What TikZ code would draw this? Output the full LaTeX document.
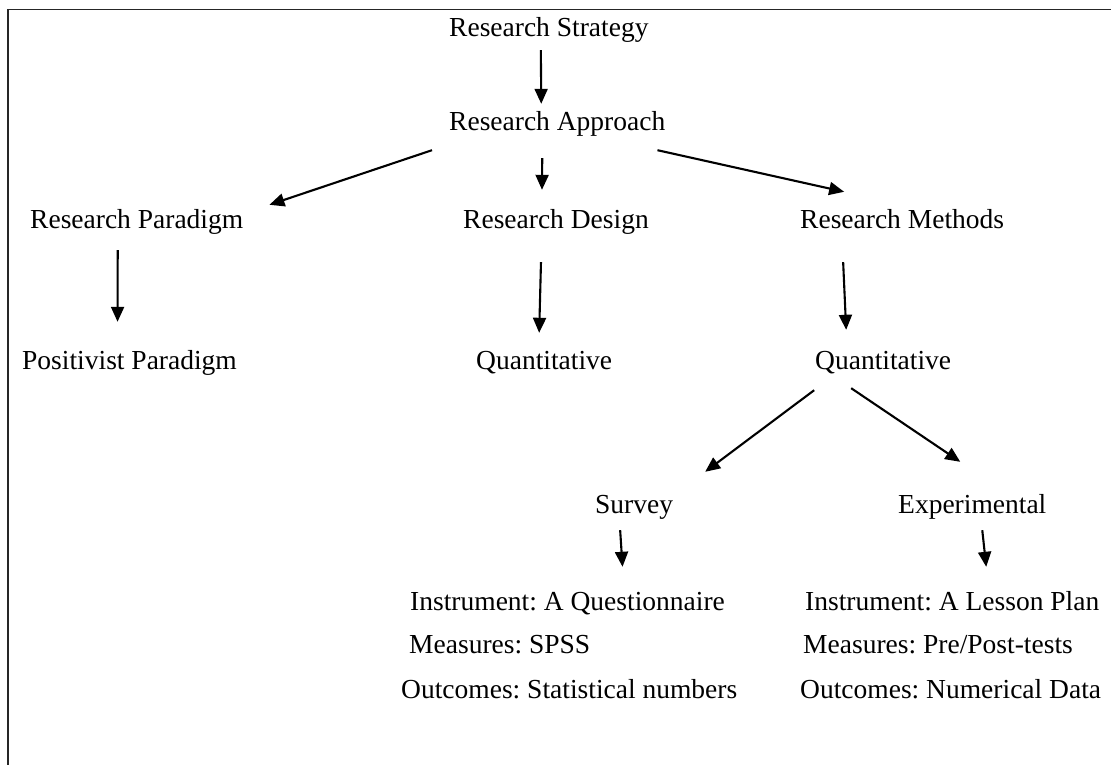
\documentclass[tikz,border=0pt]{standalone}
\usepackage{fontspec}
\setmainfont{Liberation Serif}
\usetikzlibrary{arrows.meta}
\frenchspacing
\begin{document}
\begin{tikzpicture}[x=1pt,y=-1pt,
  lbl/.style={inner sep=0pt,anchor=base west,text height=19pt,text depth=6pt,
    font=\fontsize{27.5pt}{33pt}\selectfont},
  arr/.style={line width=2.1pt,-{Triangle[length=15pt,width=13pt]}}]
\useasboundingbox (0,0) rectangle (1111,765);
% frame: top and left edges only
\draw[line width=1.8pt,black!85] (8,765) -- (8,9.5) -- (1111,9.5);

% labels
\node[lbl] (strategy) at (449,37) {Research Strategy};
\node[lbl] (approach) at (449,131) {Research Approach};
\node[lbl] (paradigm) at (30,228) {Research Paradigm};
\node[lbl] (design) at (463,228) {Research Design};
\node[lbl] (methods) at (800,228) {Research Methods};
\node[lbl] (positivist) at (22,369) {Positivist Paradigm};
\node[lbl] (quantA) at (476,369) {Quantitative};
\node[lbl] (quantB) at (815,369) {Quantitative};
\node[lbl] (survey) at (595,513) {Survey};
\node[lbl] (experimental) at (898,513) {Experimental};
\node[lbl] (instA) at (410,610) {Instrument: A Questionnaire};
\node[lbl] (measA) at (409,653) {Measures: SPSS};
\node[lbl] (outA) at (401,698) {Outcomes: Statistical numbers};
\node[lbl] (instB) at (805,610) {Instrument: A Lesson Plan};
\node[lbl] (measB) at (803,653) {Measures: Pre/Post-tests};
\node[lbl] (outB) at (800,698) {Outcomes: Numerical Data};

% connectors
\draw[arr] ([shift={(-8,7)}]strategy.south) -- ([shift={(-16,-8)}]approach.north);
\draw[arr] ([shift={(-15,21)}]approach.south) -- ([shift={(-14,-19)}]design.north);
\draw[arr] ([shift={(-17,13)}]approach.south west) -- ([shift={(26,-4)}]paradigm.north east);
\draw[arr] ([shift={(-8,13)}]approach.south east) -- ([shift={(-58,-17)}]methods.north);
\draw[arr] ([shift={(-19,16)}]paradigm.south) -- ([shift={(-12,-28)}]positivist.north);
\draw[arr] ([shift={(-15,28)}]design.south) -- ([shift={(-5,-17)}]quantA.north);
\draw[arr] ([shift={(-59,28)}]methods.south) -- ([shift={(-37,-20)}]quantB.north);
\draw[arr] ([shift={(-69,15)}]quantB.south) -- ([shift={(71,-22)}]survey.north);
\draw[arr] ([shift={(-32,13)}]quantB.south) -- ([shift={(-12,-32)}]experimental.north);
\draw[arr] ([shift={(-14,11)}]survey.south) -- ([shift={(55,-24)}]instA.north);
\draw[arr] ([shift={(10,11)}]experimental.south) -- ([shift={(34,-24)}]instB.north);
\end{tikzpicture}
\end{document}
